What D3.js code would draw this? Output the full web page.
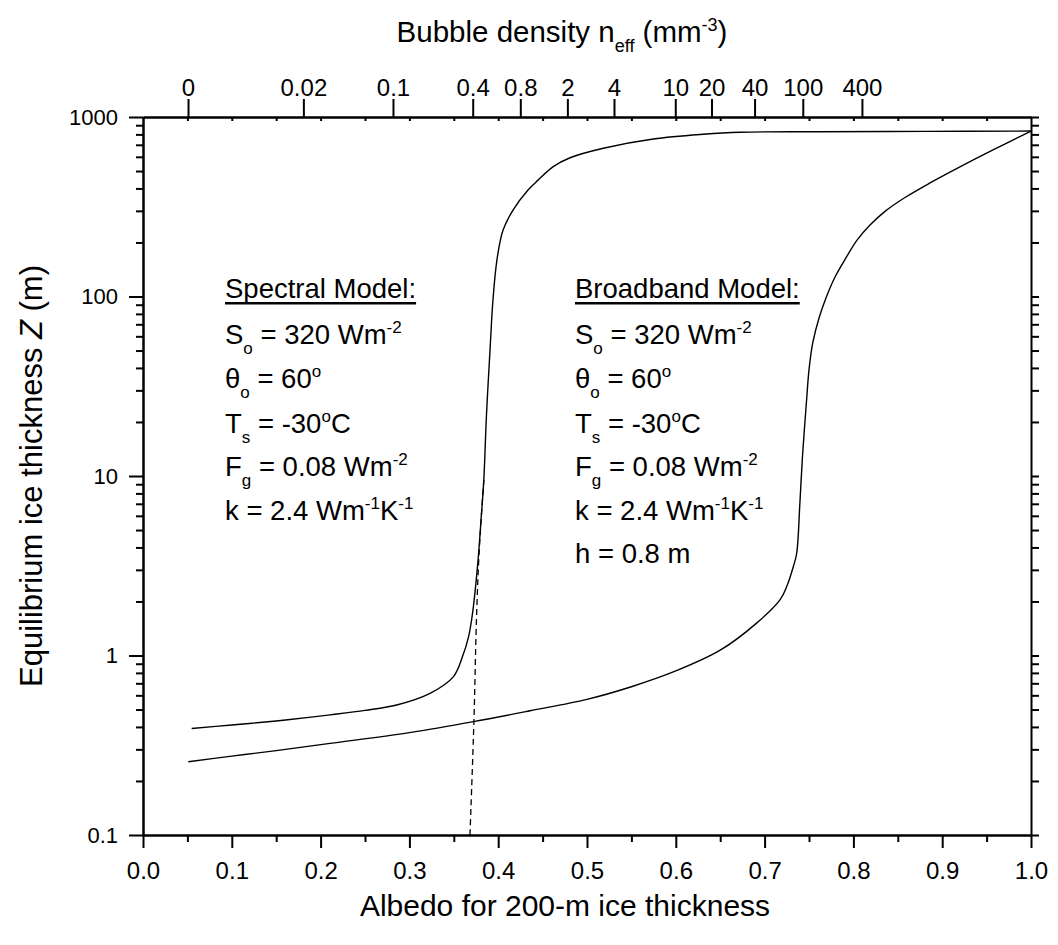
<!DOCTYPE html>
<html>
<head>
<meta charset="utf-8">
<script src="https://cdn.jsdelivr.net/npm/d3@7"></script>
<style>
  body { margin: 0; background: #fff; }
  svg text { font-family: "Liberation Sans", Arial, sans-serif; fill: #000; }
</style>
</head>
<body>
<div class="chart"></div>
<script>
// spectral model curve (solid, upper)
var spectralAlbedo = [0.0548, 0.10, 0.15, 0.1918, 0.2106, 0.25, 0.2857, 0.3232, 0.3494, 0.3598, 0.3666, 0.3711, 0.377, 0.3812, 0.3838, 0.3868, 0.3908, 0.3941, 0.3986, 0.4054, 0.4167, 0.4336, 0.4449, 0.462, 0.4809, 0.5184, 0.5747, 0.631, 0.6723, 0.76, 0.88, 1.0];
var spectralZ      = [0.392, 0.41, 0.432, 0.455, 0.467, 0.495, 0.53, 0.615, 0.76, 0.986, 1.27, 1.72, 3.26, 6.2, 9.5, 21.9, 50.4, 95.6, 160, 234, 303, 392, 445, 529, 593, 670, 754, 801, 822, 828, 832, 835];

// spectral model extension below 1 m (dashed)
var dashedAlbedo = [0.3682, 0.3727, 0.3755, 0.3785, 0.3838];
var dashedZ      = [0.1, 0.437, 1.58, 3.72, 9.5];

// broadband model curve (solid, lower)
var broadAlbedo = [0.051, 0.10, 0.15, 0.2106, 0.30, 0.372, 0.4358, 0.50, 0.55, 0.60, 0.65, 0.69, 0.7173, 0.7249, 0.7323, 0.7361, 0.7397, 0.7425, 0.7474, 0.75, 0.7542, 0.7613, 0.7691, 0.7793, 0.7924, 0.8041, 0.8187, 0.8356, 0.8581, 0.8863, 0.92, 0.9572, 1.0];
var broadZ      = [0.256, 0.275, 0.295, 0.324, 0.372, 0.428, 0.492, 0.57, 0.67, 0.82, 1.07, 1.5, 2.04, 2.42, 3.12, 3.7, 7, 12.5, 27, 39, 55.1, 75.9, 98.1, 128.5, 166.6, 206, 250, 298, 356, 429, 527, 655, 835];

// top axis: bubble density labels placed at albedo positions
var topTickLabels = ["0", "0.02", "0.1", "0.4", "0.8", "2", "4", "10", "20", "40", "100", "400"];
var topTickAlbedo = [0.0507, 0.1806, 0.2815, 0.3713, 0.4249, 0.4779, 0.5304, 0.5994, 0.6402, 0.6887, 0.743, 0.8096];

var bottomTicks = [0, 0.1, 0.2, 0.3, 0.4, 0.5, 0.6, 0.7, 0.8, 0.9, 1.0];
var leftTicks = [0.1, 1, 10, 100, 1000];
var leftTickLabels = ["0.1", "1", "10", "100", "1000"];

var width = 1058, height = 945;
var margin = {top: 117, right: 27, bottom: 110, left: 143};
var w = width - margin.left - margin.right,
    h = height - margin.top - margin.bottom;

var svg = d3.select(".chart").append("svg")
  .attr("width", width)
  .attr("height", height);
var g = svg.append("g")
  .attr("transform", "translate(" + margin.left + "," + margin.top + ")");

var x = d3.scaleLinear().domain([0, 1]).range([0, w]);
var y = d3.scaleLog().domain([0.1, 1000]).range([h, 0]);

var minorX = d3.range(0.05, 1, 0.1);
var minorY = [];
[0.1, 1, 10, 100].forEach(function(d) {
  for (var k = 2; k <= 9; k++) minorY.push(d * k);
});

function styleAxis(sel, fontSize) {
  sel.selectAll("path, line").attr("stroke", "#000").attr("stroke-width", 2);
  sel.selectAll("text").style("font-size", fontSize + "px").attr("fill", "#000");
}

// bottom axis
g.append("g")
  .attr("transform", "translate(0," + h + ")")
  .call(d3.axisBottom(x).tickValues(minorX).tickSize(7).tickSizeOuter(0).tickFormat(""))
  .call(styleAxis, 24);
g.append("g")
  .attr("transform", "translate(0," + h + ")")
  .call(d3.axisBottom(x).tickValues(bottomTicks).tickSize(13).tickPadding(14).tickSizeOuter(0).tickFormat(d3.format(".1f")))
  .call(styleAxis, 24);

// top axis
g.append("g")
  .call(d3.axisTop(x).tickValues(d3.range(0.05, 1, 0.05)).tickSize(-4).tickSizeOuter(0).tickFormat(""))
  .call(styleAxis, 24);
g.append("g")
  .call(d3.axisTop(x).tickValues(topTickAlbedo).tickSize(18).tickPadding(3).tickSizeOuter(0)
    .tickFormat(function(d, i) { return topTickLabels[i]; }))
  .call(styleAxis, 24);

// left axis
g.append("g")
  .call(d3.axisLeft(y).tickValues(minorY).tickSize(7).tickSizeOuter(0).tickFormat(""))
  .call(styleAxis, 22);
g.append("g")
  .call(d3.axisLeft(y).tickValues(leftTicks).tickSize(14).tickPadding(11).tickSizeOuter(0)
    .tickFormat(function(d, i) { return leftTickLabels[i]; }))
  .call(styleAxis, 22);

// right axis
g.append("g")
  .attr("transform", "translate(" + w + ",0)")
  .call(d3.axisRight(y).tickValues(minorY.concat(leftTicks)).tickSize(8).tickSizeOuter(0).tickFormat(""))
  .call(styleAxis, 24);

// curves
var line = d3.line()
  .curve(d3.curveCatmullRom.alpha(0.5))
  .x(function(d) { return x(d[0]); })
  .y(function(d) { return y(d[1]); });

g.append("path")
  .datum(d3.zip(spectralAlbedo, spectralZ))
  .attr("fill", "none")
  .attr("stroke", "#000")
  .attr("stroke-width", 1.4)
  .attr("d", line);

g.append("path")
  .datum(d3.zip(broadAlbedo, broadZ))
  .attr("fill", "none")
  .attr("stroke", "#000")
  .attr("stroke-width", 1.4)
  .attr("d", line);

g.append("path")
  .datum(d3.zip(dashedAlbedo, dashedZ))
  .attr("fill", "none")
  .attr("stroke", "#000")
  .attr("stroke-width", 1.3)
  .attr("stroke-dasharray", "6,4")
  .attr("d", line);

// rich text helper: segments of [text, "n" | "sub" | "sup" | "i"]
function richText(parent, px, py, segs, size) {
  var t = parent.append("text")
    .attr("x", px)
    .attr("y", py)
    .style("font-size", size + "px");
  var shift = 0;
  segs.forEach(function(s) {
    var target = s[1] === "sub" ? 10 : (s[1] === "sup" ? -11 : 0);
    var ts = t.append("tspan")
      .attr("dy", target - shift)
      .text(s[0]);
    if (s[1] === "sub" || s[1] === "sup") ts.style("font-size", Math.round(size * 0.6) + "px");
    if (s[1] === "i") ts.style("font-style", "italic");
    shift = target;
  });
  return t;
}

var baseLines = [298, 344, 388, 433, 476, 520, 563];
var annoSize = 27.5;

function paramBlock(px, title, withH) {
  var head = richText(svg, px, baseLines[0], [[title, "n"]], annoSize);
  svg.append("rect")
    .attr("x", px)
    .attr("y", baseLines[0] + 4)
    .attr("width", head.node().getComputedTextLength())
    .attr("height", 2.5)
    .attr("fill", "#000");
  richText(svg, px, baseLines[1], [["S", "n"], ["o", "sub"], [" = 320 Wm", "n"], ["-2", "sup"]], annoSize);
  richText(svg, px, baseLines[2], [["\u03b8", "n"], ["o", "sub"], [" = 60", "n"], ["o", "sup"]], annoSize);
  richText(svg, px, baseLines[3], [["T", "n"], ["s", "sub"], [" = -30", "n"], ["o", "sup"], ["C", "n"]], annoSize);
  richText(svg, px, baseLines[4], [["F", "n"], ["g", "sub"], [" = 0.08 Wm", "n"], ["-2", "sup"]], annoSize);
  richText(svg, px, baseLines[5], [["k = 2.4 Wm", "n"], ["-1", "sup"], ["K", "n"], ["-1", "sup"]], annoSize);
  if (withH) richText(svg, px, baseLines[6], [["h = 0.8 m", "n"]], annoSize);
}

paramBlock(225, "Spectral Model:", false);
paramBlock(575, "Broadband Model:", true);

// axis titles
svg.append("text")
  .attr("x", 565)
  .attr("y", 916)
  .attr("text-anchor", "middle")
  .style("font-size", "30px")
  .text("Albedo for 200-m ice thickness");

richText(svg, 0, 0, [["Equilibrium ice thickness ", "n"], ["Z", "i"], [" (m)", "n"]], 31)
  .attr("text-anchor", "middle")
  .attr("transform", "translate(42," + (margin.top + h / 2) + ") rotate(-90)");

richText(svg, 0, 0, [["Bubble density n", "n"], ["eff", "sub"], ["  (mm", "n"], ["-3", "sup"], [")", "n"]], 29.5)
  .attr("text-anchor", "middle")
  .attr("transform", "translate(562,42)");
</script>
</body>
</html>
